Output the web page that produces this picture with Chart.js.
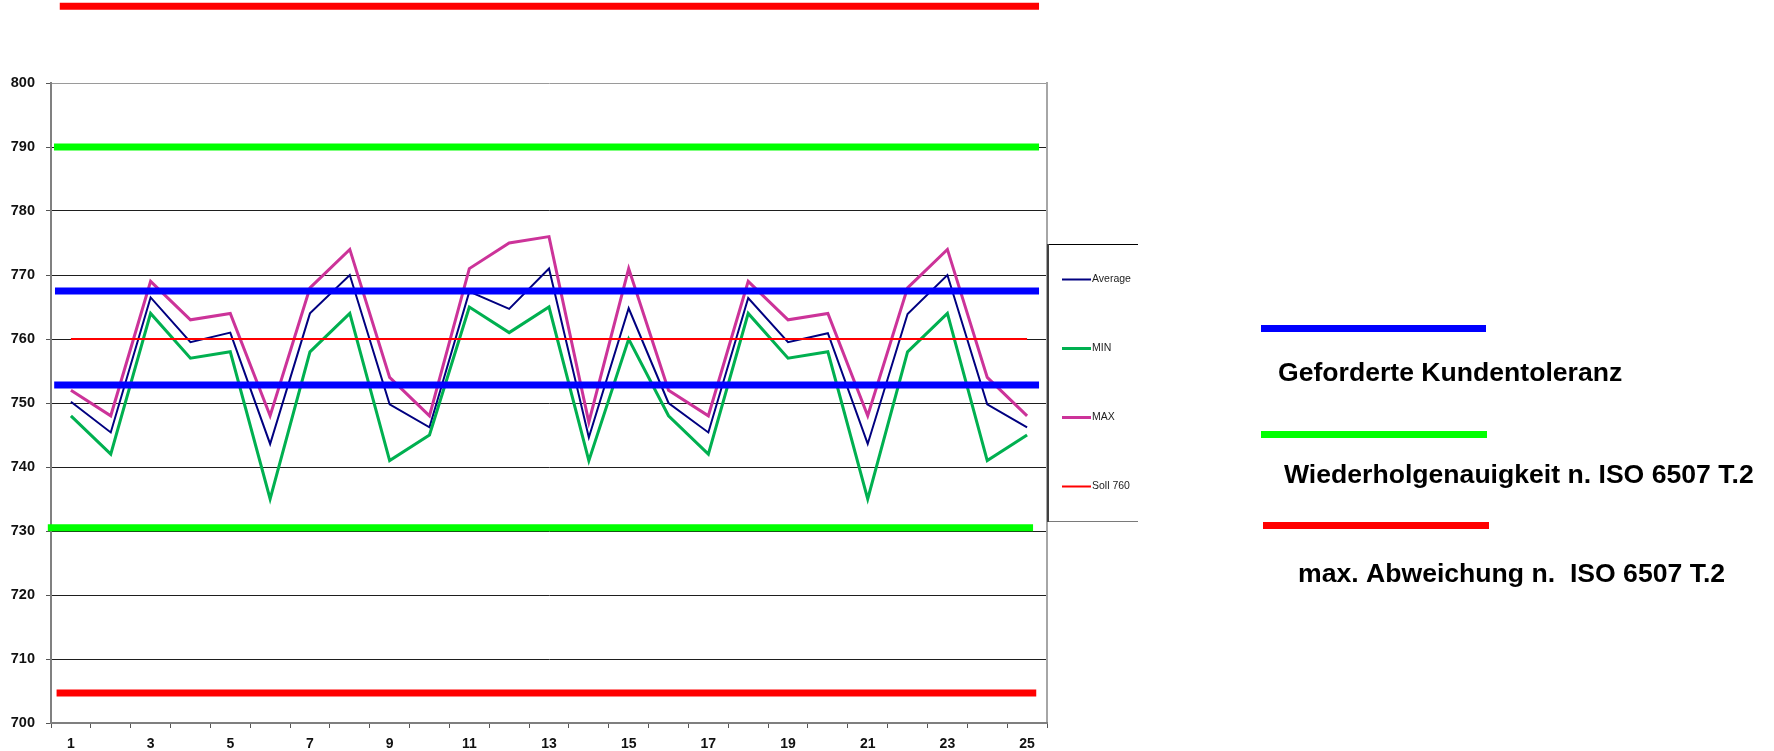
<!DOCTYPE html>
<html lang="de">
<head>
<meta charset="utf-8">
<title>Messreihe Soll 760</title>
<script src="https://cdn.jsdelivr.net/npm/chart.js@4.4.1/dist/chart.umd.min.js"></script>
<style>
  html, body { margin: 0; padding: 0; background: #ffffff; }
  #wrap { position: relative; width: 1774px; height: 751px; }
</style>
</head>
<body>
<div id="wrap"><canvas id="chart" width="1774" height="751"></canvas></div>
<script>
// Messpunkte 1..25
const runs = [1, 2, 3, 4, 5, 6, 7, 8, 9, 10, 11, 12, 13, 14, 15, 16, 17, 18, 19, 20, 21, 22, 23, 24, 25];

// Mittelwert, Minimum und Maximum je Messpunkt
const avgValues = [750.2, 745.4, 766.5, 759.5, 761.0, 743.6, 764.0, 770.0, 749.8, 746.2,
                   767.4, 764.7, 771.0, 744.6, 764.8, 750.0, 745.4, 766.4, 759.5, 760.9,
                   743.6, 763.9, 770.0, 749.8, 746.2];
const minValues = [748, 742, 764, 757, 758, 735, 758, 764, 741, 745,
                   765, 761, 765, 741, 760, 748, 742, 764, 757, 758,
                   735, 758, 764, 741, 745];
const maxValues = [752, 748, 769, 763, 764, 748, 768, 774, 754, 748,
                   771, 775, 776, 747, 771, 752, 748, 769, 763, 764,
                   748, 768, 774, 754, 748];
const sollValue = 760;

// Toleranzgrenzen: Niveau und Anfang/Ende auf der Messpunkt-Achse
const kundenTol      = [767.5, 752.8];
const kundenTolFrom  = [0.60, 0.58];
const kundenTolTo    = [25.30, 25.30];
const wiederholTol     = [790, 730.5];
const wiederholTolFrom = [0.575, 0.42];
const wiederholTolTo   = [25.30, 25.15];
const maxAbwTol     = [812, 704.7];
const maxAbwTolFrom = [0.72, 0.64];
const maxAbwTolTo   = [25.30, 25.23];

// y-Achse
const yMin = 700, yMax = 800, yStep = 10;

const FONT = '"Liberation Sans", Arial, Helvetica, sans-serif';

const series = (vals) => runs.map((r, i) => ({ x: r, y: vals[i] }));
const segment = (level, from, to) => [{ x: from, y: level }, { x: to, y: level }];

function bandSets(levels, from, to, color, name) {
  return levels.map((lv, i) => ({
    label: name + ' ' + (i + 1),
    data: segment(lv, from[i], to[i]),
    borderColor: color,
    backgroundColor: color,
    borderWidth: 7,
    borderCapStyle: 'butt',
    pointRadius: 0,
    tension: 0,
    clip: false,
    order: 1,
    inLegend: false
  }));
}

// Kastenlegende rechts neben dem Diagramm
const boxedLegend = {
  id: 'boxedLegend',
  afterDraw(chart, args, o) {
    const ctx = chart.ctx;
    ctx.save();
    ctx.lineCap = 'butt';
    ctx.strokeStyle = '#000000';
    ctx.lineWidth = 1;
    ctx.beginPath(); ctx.moveTo(o.left, o.top + 0.5); ctx.lineTo(o.right, o.top + 0.5); ctx.stroke();
    ctx.strokeStyle = '#7a7a7a';
    ctx.beginPath(); ctx.moveTo(o.left, o.bottom + 0.5); ctx.lineTo(o.right, o.bottom + 0.5); ctx.stroke();
    ctx.strokeStyle = '#404040';
    ctx.lineWidth = 2;
    ctx.beginPath(); ctx.moveTo(o.left + 1, o.top); ctx.lineTo(o.left + 1, o.bottom + 1); ctx.stroke();

    const items = chart.data.datasets.filter(d => d.inLegend);
    ctx.font = o.fontSize + 'px ' + FONT;
    ctx.textBaseline = 'middle';
    ctx.textAlign = 'left';
    items.forEach((ds, i) => {
      const y = o.firstY + i * o.rowGap;
      ctx.strokeStyle = ds.borderColor;
      ctx.lineWidth = ds.borderWidth;
      ctx.beginPath(); ctx.moveTo(o.sampleX, y); ctx.lineTo(o.sampleX + o.sampleLen, y); ctx.stroke();
      ctx.fillStyle = o.color;
      ctx.fillText(ds.label, o.sampleX + o.sampleLen + 1, y);
    });
    ctx.restore();
  }
};

// Erläuterung der Toleranzlinien
const sideNotes = {
  id: 'sideNotes',
  afterDraw(chart, args, o) {
    const ctx = chart.ctx;
    ctx.save();
    ctx.lineCap = 'butt';
    ctx.font = 'bold ' + o.fontSize + 'px ' + FONT;
    ctx.textBaseline = 'alphabetic';
    ctx.textAlign = 'left';
    o.items.forEach(it => {
      ctx.strokeStyle = it.color;
      ctx.lineWidth = 7;
      ctx.beginPath(); ctx.moveTo(it.x1, it.y); ctx.lineTo(it.x2, it.y); ctx.stroke();
      ctx.fillStyle = '#000000';
      ctx.fillText(it.text, it.tx, it.ty);
    });
    ctx.restore();
  }
};

const datasets = [
  { label: 'Average', data: series(avgValues), borderColor: '#000080', backgroundColor: '#000080',
    borderWidth: 2, pointRadius: 0, tension: 0, order: 5, inLegend: true },
  { label: 'MIN', data: series(minValues), borderColor: '#00B050', backgroundColor: '#00B050',
    borderWidth: 3, pointRadius: 0, tension: 0, order: 4, inLegend: true },
  { label: 'MAX', data: series(maxValues), borderColor: '#CC3399', backgroundColor: '#CC3399',
    borderWidth: 3, pointRadius: 0, tension: 0, order: 3, inLegend: true },
  { label: 'Soll 760', data: series(runs.map(() => sollValue)), borderColor: '#FF0000', backgroundColor: '#FF0000',
    borderWidth: 2, pointRadius: 0, tension: 0, order: 2, inLegend: true },
  ...bandSets(kundenTol, kundenTolFrom, kundenTolTo, '#0000FF', 'Kundentoleranz'),
  ...bandSets(wiederholTol, wiederholTolFrom, wiederholTolTo, '#00FF00', 'Wiederholgenauigkeit'),
  ...bandSets(maxAbwTol, maxAbwTolFrom, maxAbwTolTo, '#FF0000', 'max. Abweichung')
];

new Chart(document.getElementById('chart'), {
  type: 'line',
  data: { datasets },
  plugins: [boxedLegend, sideNotes],
  options: {
    responsive: false,
    animation: false,
    events: [],
    layout: { padding: { top: 83, right: 727, bottom: 0, left: 0 } },
    plugins: {
      legend: { display: false },
      tooltip: { enabled: false },
      boxedLegend: {
        left: 1047, right: 1138, top: 244, bottom: 521,
        firstY: 279.5, rowGap: 69, sampleX: 1062, sampleLen: 29,
        fontSize: 10.5, color: '#222222'
      },
      sideNotes: {
        fontSize: 26.6,
        items: [
          { color: '#0000FF', x1: 1261, x2: 1486, y: 328.5, text: 'Geforderte Kundentoleranz', tx: 1278, ty: 381 },
          { color: '#00FF00', x1: 1261, x2: 1487, y: 434.5, text: 'Wiederholgenauigkeit n. ISO 6507 T.2', tx: 1284, ty: 482.5 },
          { color: '#FF0000', x1: 1263, x2: 1489, y: 525.5, text: 'max. Abweichung n.  ISO 6507 T.2', tx: 1298, ty: 581.5 }
        ]
      }
    },
    scales: {
      y: {
        type: 'linear',
        position: 'left',
        min: yMin, max: yMax,
        afterFit: (s) => { s.width = 51; },
        ticks: {
          stepSize: yStep,
          padding: 11,
          color: '#111111',
          font: { family: FONT, size: 14.5, weight: 'bold' }
        },
        grid: {
          drawTicks: true,
          tickLength: 5,
          tickColor: '#555555',
          lineWidth: 1,
          color: (c) => c.tick.value === yMax ? '#9a9a9a' : (c.tick.value === yMin ? 'rgba(0,0,0,0)' : '#1e1e1e')
        },
        border: { display: true, color: '#808080', width: 2 }
      },
      yRight: {
        type: 'linear',
        position: 'right',
        min: yMin, max: yMax,
        afterFit: (s) => { s.width = 0; },
        ticks: { display: false },
        grid: { display: false, drawTicks: false },
        border: { display: true, color: '#a6a6a6', width: 2 }
      },
      xMarks: {
        type: 'linear',
        position: 'bottom',
        weight: 0,
        min: 0.5, max: 25.5,
        afterBuildTicks: (s) => { s.ticks = [...runs.map(r => r - 0.5), runs[runs.length - 1] + 0.5].map(v => ({ value: v })); },
        afterFit: (s) => { s.height = 5; },
        ticks: { display: false, autoSkip: false },
        grid: { drawOnChartArea: false, drawTicks: true, tickLength: 5, color: '#555555', lineWidth: 1 },
        border: { display: true, color: '#7f7f7f', width: 2 }
      },
      x: {
        type: 'linear',
        position: 'bottom',
        weight: 1,
        min: 0.5, max: 25.5,
        afterBuildTicks: (s) => { s.ticks = runs.map(r => ({ value: r })); },
        afterFit: (s) => { s.height = 23; },
        ticks: {
          autoSkip: false,
          maxRotation: 0,
          padding: 8,
          color: '#111111',
          font: { family: FONT, size: 14, weight: 'bold' },
          callback: (v) => (v % 2 === 1 ? String(v) : '')
        },
        grid: { display: false, drawTicks: false },
        border: { display: false }
      }
    }
  }
});
</script>
</body>
</html>
